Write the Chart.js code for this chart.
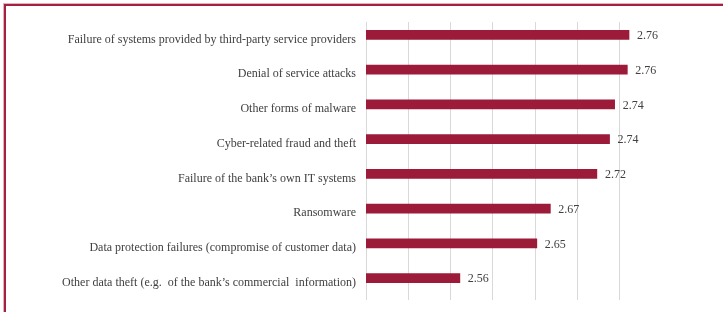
<!DOCTYPE html>
<html>
<head>
<meta charset="utf-8">
<script src="https://cdn.jsdelivr.net/npm/chart.js@4"></script>
<style>
    html, body { margin: 0; padding: 0; background: #fff; }
    #wrap { position: relative; width: 723px; height: 312px; overflow: hidden; }
    #frame {
        position: absolute; left: 4px; top: 4px; width: 740px; height: 330px;
        border-left: 2px solid #a3223f; border-top: 2px solid #a3223f;
        box-shadow: -1px -1px 0 #e3b3bd;
    }
    canvas { position: absolute; left: 0; top: 0; }
</style>
</head>
<body>
<div id="wrap">
    <div id="frame"></div>
    <canvas id="chart" width="723" height="312"></canvas>
</div>
<script>
    // Data
    var categories = [
        'Failure of systems provided by third-party service providers',
        'Denial of service attacks',
        'Other forms of malware',
        'Cyber-related fraud and theft',
        'Failure of the bank\u2019s own IT systems',
        'Ransomware',
        'Data protection failures (compromise of customer data)',
        'Other data theft (e.g.  of the bank\u2019s commercial  information)'
    ];
    var scores = [2.761, 2.759, 2.744, 2.738, 2.723, 2.668, 2.652, 2.561];
    // the source chart has a second, empty series that shifts the bars up in each band
    var emptySeries = [];

    var FONT = '"Liberation Serif", "Times New Roman", serif';
    var TEXT = '#404040';
    var BAR = '#9b1b38';

    // value labels next to each bar end
    var valueLabels = {
        id: 'valueLabels',
        afterDatasetsDraw: function(chart) {
            var ctx = chart.ctx;
            var meta = chart.getDatasetMeta(0);
            ctx.save();
            ctx.font = '12px ' + FONT;
            ctx.fillStyle = TEXT;
            ctx.textAlign = 'left';
            ctx.textBaseline = 'middle';
            meta.data.forEach(function(bar, i) {
                ctx.fillText(scores[i].toFixed(2), bar.x + 8, bar.y + 1);
            });
            ctx.restore();
        }
    };

    new Chart(document.getElementById('chart'), {
        type: 'bar',
        data: {
            labels: categories,
            datasets: [{
                data: scores,
                backgroundColor: BAR,
                borderWidth: 0,
                barThickness: 9
            }, {
                data: emptySeries,
                backgroundColor: BAR,
                borderWidth: 0,
                barThickness: 9
            }]
        },
        options: {
            indexAxis: 'y',
            responsive: false,
            animation: false,
            layout: {
                padding: { left: 0, right: 61, top: 22, bottom: 12 }
            },
            plugins: {
                legend: { display: false },
                tooltip: { enabled: false }
            },
            scales: {
                x: {
                    min: 2.45,
                    max: 2.8,
                    ticks: { display: false, stepSize: 0.05 },
                    border: { display: false },
                    grid: {
                        drawTicks: false,
                        color: function(c) {
                            return c.tick && c.tick.value > 2.79 ? 'rgba(0,0,0,0)' : '#d9d9d9';
                        }
                    },
                    afterFit: function(scale) {
                        scale.height = 0;
                    }
                },
                y: {
                    border: { display: false },
                    grid: { display: false, drawTicks: false },
                    ticks: {
                        padding: 10,
                        color: TEXT,
                        font: { family: FONT, size: 12 }
                    },
                    afterFit: function(scale) {
                        scale.width = 366;
                        scale.paddingTop = 0;
                        scale.paddingBottom = 0;
                    }
                }
            }
        },
        plugins: [valueLabels]
    });
</script>
</body>
</html>
